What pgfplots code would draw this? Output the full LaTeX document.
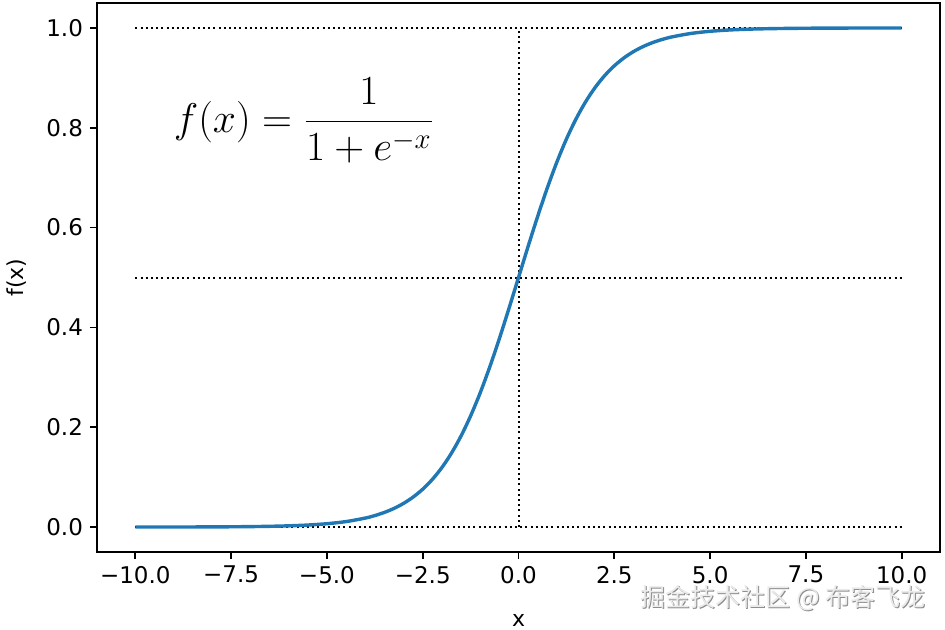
\documentclass[border=0pt]{standalone}
\usepackage{fontspec}
\setmainfont{DejaVu Sans}
\newfontfamily\cjk{Noto Sans CJK SC}
\usepackage{pgfplots}
\pgfplotsset{compat=1.18}
\definecolor{mplblue}{HTML}{1F77B4}

% sigmoid sampled by hand
\pgfplotstableread{
x y
-10 0.0000454
-9.5 0.0000749
-9 0.0001234
-8.5 0.0002034
-8 0.0003354
-7.5 0.0005531
-7 0.0009111
-6.5 0.0015011
-6 0.0024726
-5.5 0.0040701
-5 0.0066929
-4.5 0.0109869
-4 0.0179862
-3.75 0.0229773
-3.5 0.0293122
-3.25 0.0373269
-3 0.0474259
-2.75 0.0600866
-2.5 0.0758582
-2.25 0.0953495
-2 0.1192029
-1.75 0.1480472
-1.5 0.1824255
-1.25 0.2227001
-1 0.2689414
-0.75 0.3208213
-0.5 0.3775407
-0.25 0.4378235
0 0.5
0.25 0.5621765
0.5 0.6224593
0.75 0.6791787
1 0.7310586
1.25 0.7772999
1.5 0.8175745
1.75 0.8519528
2 0.8807971
2.25 0.9046505
2.5 0.9241418
2.75 0.9399134
3 0.9525741
3.25 0.9626731
3.5 0.9706878
3.75 0.9770227
4 0.9820138
4.5 0.9890131
5 0.9933071
5.5 0.9959299
6 0.9975274
6.5 0.9984989
7 0.9990889
7.5 0.9994469
8 0.9996646
8.5 0.9997966
9 0.9998766
9.5 0.9999251
10 0.9999546
}\sigmoid

\begin{document}
\begin{tikzpicture}
\path[use as bounding box] (-48.5pt,-38.5pt) rectangle (424pt,276pt);
\begin{axis}[
  name=ax,
  scale only axis,
  width=421.5pt, height=274.5pt,
  xmin=-11, xmax=11, ymin=-0.05, ymax=1.05,
  axis line style={black, line width=1pt},
  tick style={black, line width=0.9pt},
  tick align=outside,
  major tick length=3.5pt,
  xtick={-10,-7.5,-5,-2.5,0,2.5,5,7.5,10},
  xticklabels={−10.0,−7.5,−5.0,−2.5,0.0,2.5,5.0,7.5,10.0},
  ytick={0,0.2,0.4,0.6,0.8,1.0},
  yticklabels={0.0,0.2,0.4,0.6,0.8,1.0},
  xtick pos=bottom, ytick pos=left,
  tick label style={font=\fontsize{11.5}{13}\selectfont, text=black},
  xlabel={x}, ylabel={f(x)},
  label style={font=\fontsize{11}{13}\selectfont, text=black},
  xlabel style={yshift=-8.5pt},
  ylabel style={yshift=3pt},
  clip=false,
]
\addplot[black, line width=1pt, dash pattern=on 1pt off 1.6pt] coordinates {(-10,0) (10,0)};
\addplot[black, line width=1pt, dash pattern=on 1pt off 1.6pt] coordinates {(-10,0.5) (10,0.5)};
\addplot[black, line width=1pt, dash pattern=on 1pt off 1.6pt] coordinates {(-10,1) (10,1)};
\addplot[black, line width=1pt, dash pattern=on 1pt off 1.6pt] coordinates {(0,0) (0,1)};
\addplot[mplblue, line width=1.7pt, smooth] table[x=x, y=y] {\sigmoid};
\node at (axis cs:-5.6,0.815) {\fontsize{22}{26}\selectfont$\displaystyle f(x)=\frac{1}{1+e^{-x}}$};
\node[text=black!45] at ([xshift=0.5pt,yshift=-0.5pt]axis cs:6.9,-0.143) {\cjk\fontsize{12.5}{14}\selectfont 掘金技术社区 @ 布客飞龙};
\node[text=white!92!black] at (axis cs:6.9,-0.143) {\cjk\fontsize{12.5}{14}\selectfont 掘金技术社区 @ 布客飞龙};
\end{axis}
\end{tikzpicture}
\end{document}
